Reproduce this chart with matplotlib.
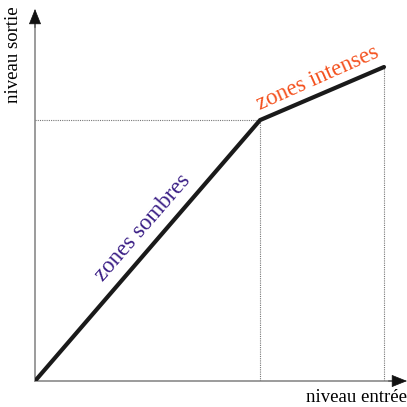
import matplotlib
matplotlib.use("Agg")
import matplotlib.pyplot as plt

# data (normalised input / output levels)
niveau_entree = [0.0, 0.645, 1.0]
niveau_sortie = [0.0, 0.831, 1.0]
label_x = "niveau entrée"
label_y = "niveau sortie"
zone_dark = "zones sombres"
zone_bright = "zones intenses"

W = H = 407
fig = plt.figure(figsize=(W / 100, H / 100), dpi=100)
# axes from pixel x=35..407, y=9..381 (top-origin)
x0, x1 = 35, 407
ytop, ybot = 9, 381
ax = fig.add_axes([x0 / W, (H - ybot) / H, (x1 - x0) / W, (ybot - ytop) / H])
ax.set_xlim(0, (x1 - x0) / 349)
ax.set_ylim(0, (ybot - ytop) / 314)
ax.axis("off")

# axes lines with arrowheads
gray = "#8a8a8a"
ax.plot([0, 0.97], [0, 0], color=gray, lw=1.2, transform=ax.transAxes, clip_on=False)
ax.plot([0, 0], [0, 0.97], color=gray, lw=1.2, transform=ax.transAxes, clip_on=False)
head = dict(arrowstyle="-|>,head_length=0.5,head_width=0.2", mutation_scale=20,
            color="#111111", shrinkA=0, shrinkB=0, lw=0.5)
ax.annotate("", xy=(1, 0), xytext=(0.95, 0), xycoords="axes fraction",
            textcoords="axes fraction", arrowprops=head, annotation_clip=False)
ax.annotate("", xy=(0, 1), xytext=(0, 0.95), xycoords="axes fraction",
            textcoords="axes fraction", arrowprops=head, annotation_clip=False)

# dotted guides
dcol = "#777777"
ax.plot([0, niveau_entree[1]], [niveau_sortie[1]] * 2, ls=(0, (1, 1)), color=dcol, lw=0.8)
ax.plot([niveau_entree[1]] * 2, [0, niveau_sortie[1]], ls=(0, (1, 1)), color=dcol, lw=0.8)
ax.plot([niveau_entree[2]] * 2, [0, niveau_sortie[2]], ls=(0, (1, 1)), color=dcol, lw=0.8)

# transfer curve
ax.plot(niveau_entree, niveau_sortie, color="#1a1a1a", lw=3.0, solid_capstyle="round",
        solid_joinstyle="miter")

# labels
fig.text(407 / W, 1 - 398 / H, label_x, ha="right", va="center", fontsize=13.5,
         family="Liberation Serif")
fig.text(14 / W, 1 - 55 / H, label_y, ha="center", va="center", rotation=90, fontsize=13.5,
         family="Liberation Serif")
fig.text(143 / W, 1 - 228 / H, zone_dark, ha="center", va="center", rotation=49,
         fontsize=16.5, color="#3b1f86", family="Liberation Serif")
fig.text(318 / W, 1 - 78 / H, zone_bright, ha="center", va="center", rotation=24,
         fontsize=16.5, color="#f4511e", family="Liberation Serif")

fig.savefig("out.png", dpi=100)
